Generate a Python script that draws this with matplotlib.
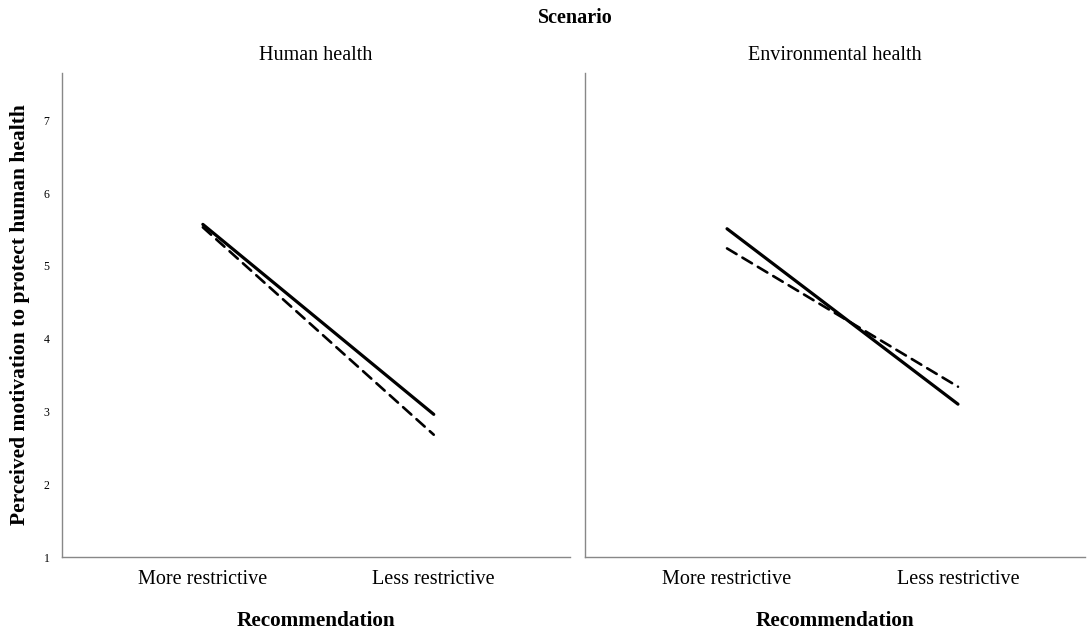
import matplotlib
matplotlib.use("Agg")
import matplotlib.pyplot as plt

categories = ["More restrictive", "Less restrictive"]
panels = ["Human health", "Environmental health"]
solid_values = {"Human health": [5.57, 2.96], "Environmental health": [5.51, 3.10]}
dashed_values = {"Human health": [5.53, 2.68], "Environmental health": [5.24, 3.34]}
yticks = [1, 2, 3, 4, 5, 6, 7]

plt.rcParams['font.family'] = ['Liberation Serif', 'DejaVu Serif']

fig = plt.figure(figsize=(10.89, 6.32), dpi=100)
W, H = 1089, 632
positions = [(62, 570), (585, 1085)]
xlims = [(-0.61, 1.59), (-0.615, 1.55)]
top, bottom = 73, 557
axes = []
for (l, r) in positions:
    ax = fig.add_axes([l / W, 1 - bottom / H, (r - l) / W, (bottom - top) / H])
    axes.append(ax)

x = list(range(len(categories)))
for i, (ax, name) in enumerate(zip(axes, panels)):
    ax.plot(x, solid_values[name], color='black', lw=2.3, solid_capstyle='round')
    ax.plot(x, dashed_values[name], color='black', lw=1.9, linestyle=(0, (4.2, 2.6)),
            dash_capstyle='round')
    ax.set_xlim(*xlims[i])
    ax.set_ylim(1, 7.65)
    ax.set_xticks(x)
    ax.set_xticklabels(categories, fontsize=14.5)
    ax.tick_params(axis='both', length=0)
    ax.tick_params(axis='x', pad=9)
    for s in ['top', 'right']:
        ax.spines[s].set_visible(False)
    for s in ['left', 'bottom']:
        ax.spines[s].set_color('#888888')
        ax.spines[s].set_linewidth(1.0)
    ax.set_title(name, fontsize=14.5, pad=9)
    ax.set_xlabel("Recommendation", fontsize=15.3, fontweight='bold', labelpad=16)
    if i == 0:
        ax.set_yticks(yticks)
        ax.set_yticklabels([str(v) for v in yticks], fontsize=8.5)
        ax.tick_params(axis='y', pad=9)
        ax.set_ylabel("Perceived motivation to protect human health", fontsize=15.5,
                      fontweight='bold', labelpad=10)
    else:
        ax.set_yticks([])

fig.text(575 / W, 1 - 18 / H, "Scenario", ha='center', va='center', fontsize=14.5,
         fontweight='bold')

fig.savefig("out.png", dpi=100)
